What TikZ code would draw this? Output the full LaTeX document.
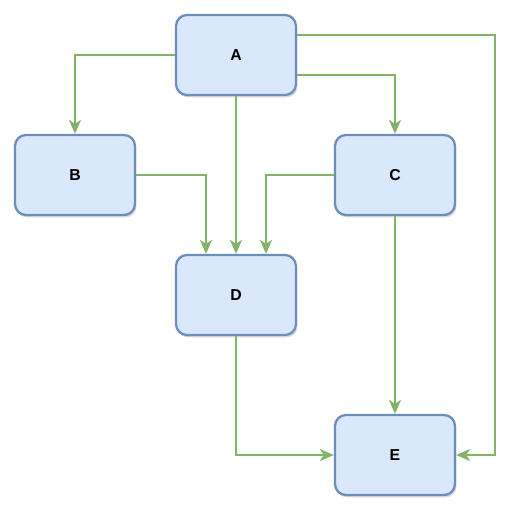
\documentclass[tikz,border=0pt]{standalone}
\usepackage{fontspec}
\setmainfont{Liberation Sans}
\usepackage{xcolor}
\usetikzlibrary{positioning,shapes,arrows.meta}
\usetikzlibrary{shadows}
\definecolor{boxfill}{HTML}{DAE8FC}
\definecolor{boxline}{HTML}{6C8EBF}
\definecolor{edgegreen}{HTML}{82B366}

\begin{document}
\begin{tikzpicture}[x=0.02cm,y=-0.02cm,
    box/.style={draw=boxline,fill=boxfill,line width=1.3pt,rounded corners=0.22cm,
      minimum width=2.4cm,minimum height=1.6cm,inner sep=0pt,
      font=\fontsize{9}{11}\selectfont\bfseries,
      drop shadow={shadow xshift=0.03cm,shadow yshift=-0.05cm,opacity=0.15,fill=black}},
    link/.style={draw=edgegreen,line width=1.2pt,-{Stealth[length=0.28cm,width=0.24cm,inset=0.08cm]}}]
\useasboundingbox (0,0) rectangle (522,515);
%[scale=2.5]
\draw node (A) at (236,55) [box]{A};
\draw node (B) at (75,175) [box]{B};
\draw node (C) at (395,175) [box]{C};
\draw node (D) at (236,295) [box]{D};
\draw node (E) at (395,455) [box]{E};
\draw[link] (A.west) -| (B.north);
\draw[link] (A.south) -- (D.north);
\draw[link] ([yshift=-0.4cm]A.east) -| (C.north);
\draw[link] ([yshift=0.4cm]A.east) -| (495,455) -- (E.east);
\draw[link] (B.east) -| ([xshift=-0.6cm]D.north);
\draw[link] (C.west) -| ([xshift=0.6cm]D.north);
\draw[link] (C.south) -- (E.north);
\draw[link] (D.south) |- (E.west);
\end{tikzpicture}
\end{document}
